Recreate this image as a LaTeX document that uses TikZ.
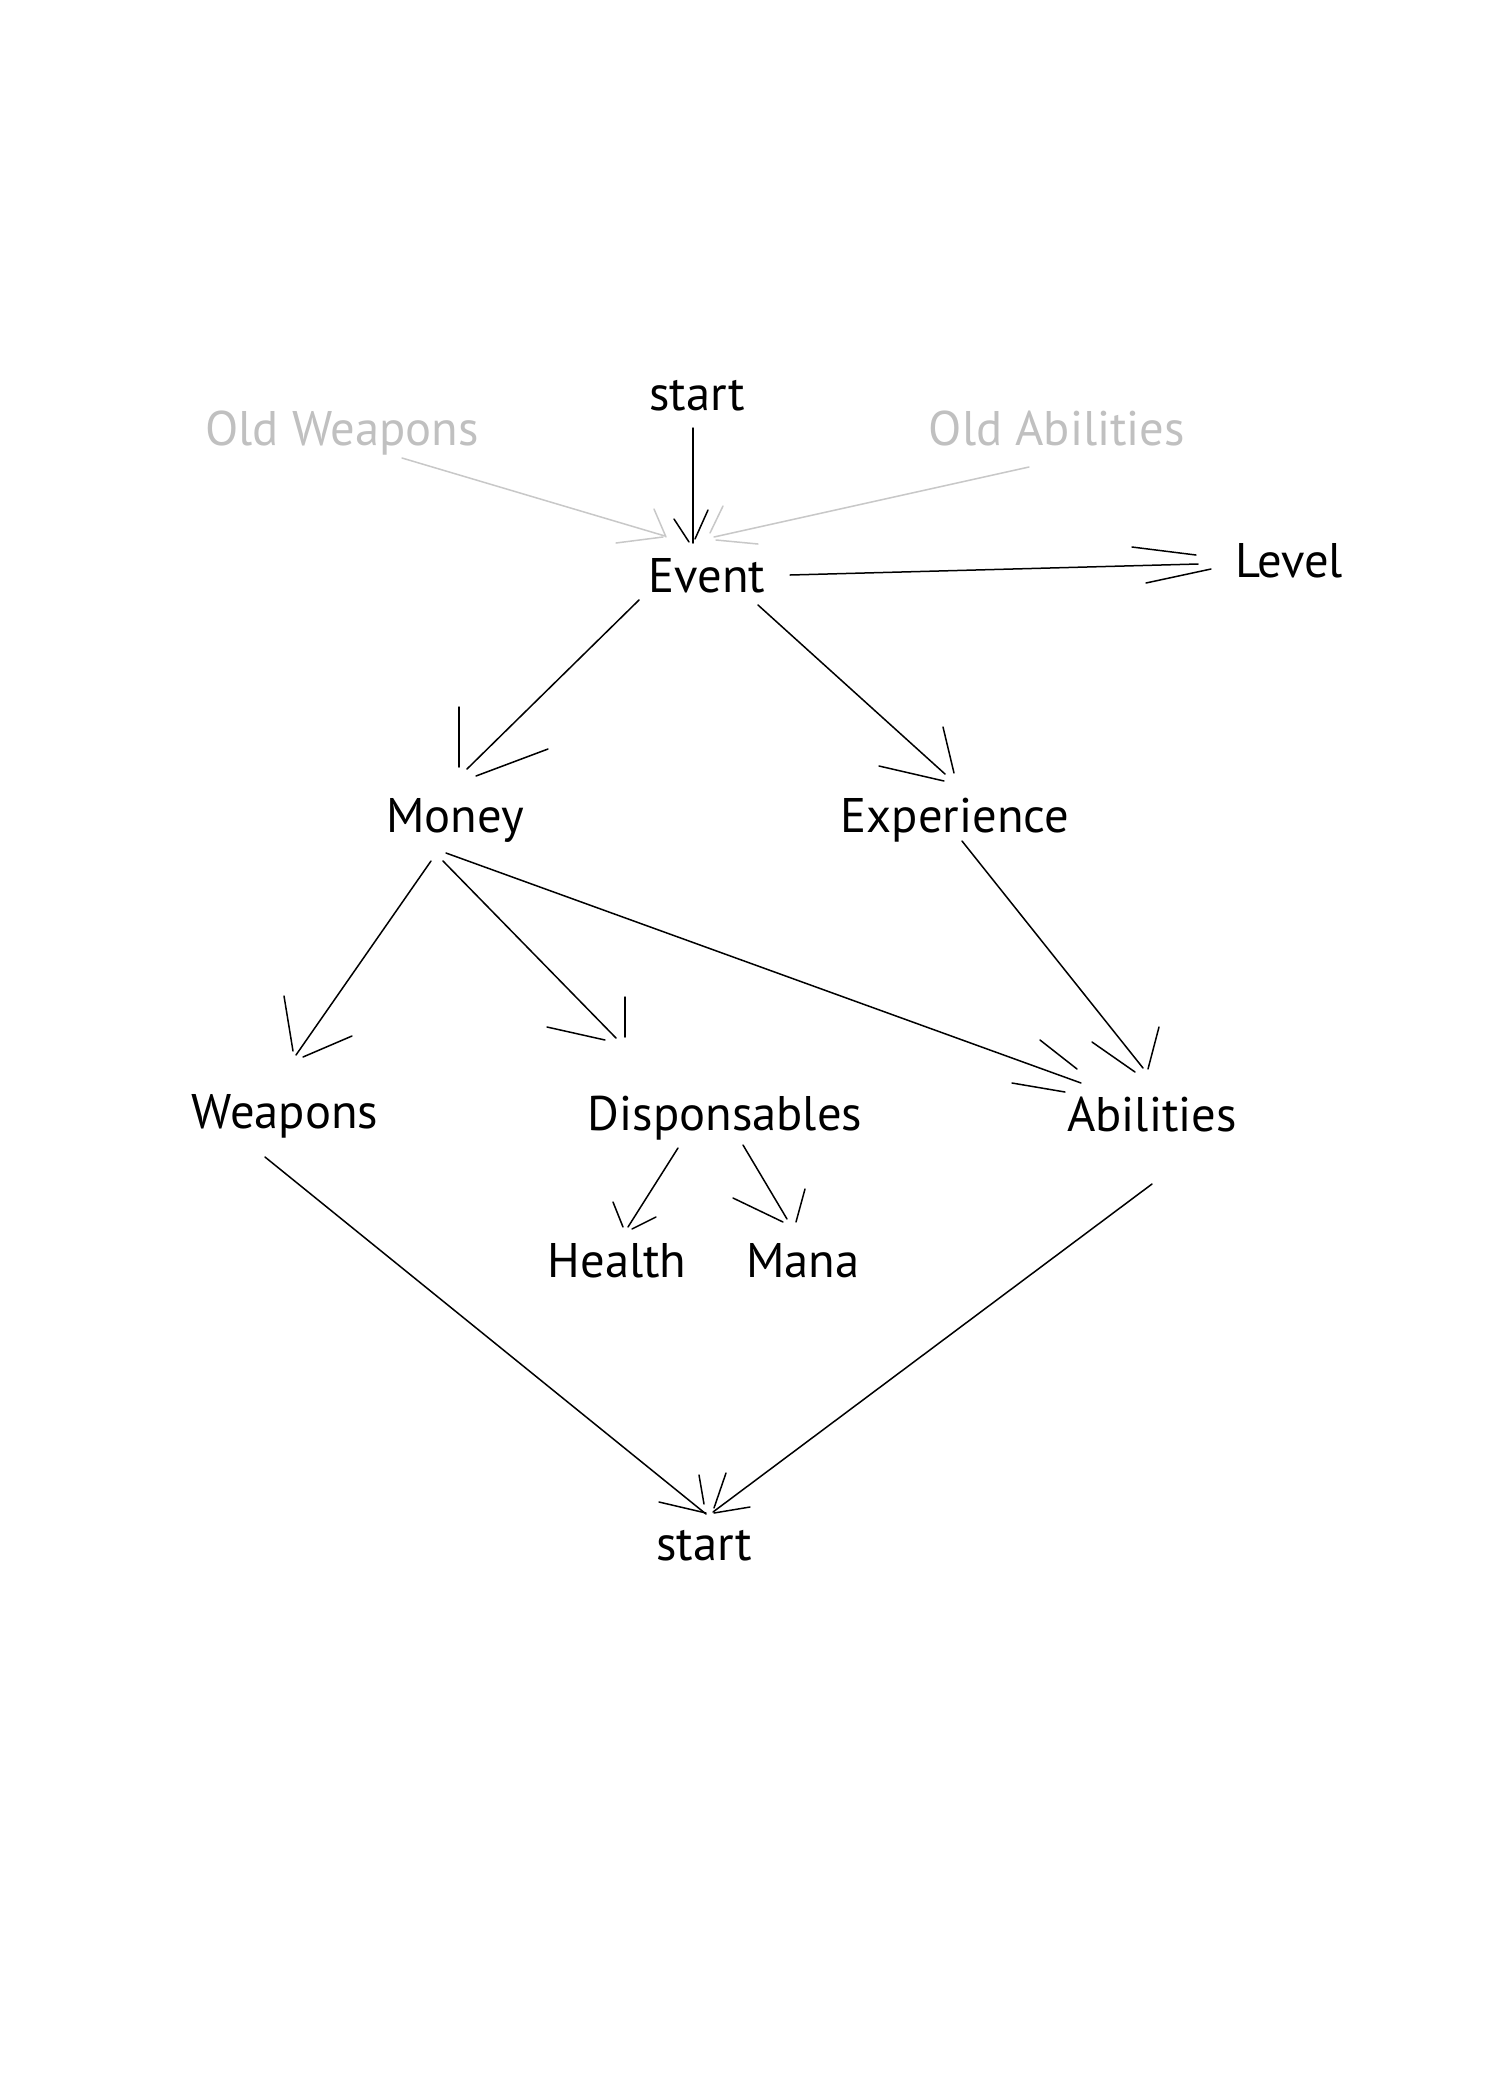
\documentclass[tikz,border=0pt]{standalone}
\usepackage{fontspec}
\setmainfont{PT Sans}
\definecolor{oldgray}{RGB}{200,200,200}
\definecolor{oldtext}{RGB}{192,192,192}
\begin{document}
\begin{tikzpicture}[x=0.5pt,y=-0.5pt,
  lbl/.style={inner sep=0pt, anchor=base, font=\fontsize{24.3pt}{29pt}\selectfont},
  oldlbl/.style={lbl, text=oldtext},
  conn/.style={line width=0.75pt, line cap=round},
  oldconn/.style={conn, draw=oldgray}]
\fill[white] (0,0) rectangle (1500,2100);
\useasboundingbox (0,0) rectangle (1500,2100);

% nodes
\node[lbl] (startTop) at (697,410) {start};
\node[oldlbl] (oldW) at (342,445) {Old Weapons};
\node[oldlbl] (oldA) at (1057,445) {Old Abilities};
\node[lbl] (event) at (707,592) {Event};
\node[lbl] (level) at (1289,577) {Level};
\node[lbl] (money) at (455,832) {Money};
\node[lbl] (exp) at (955,832) {Experience};
\node[lbl] (weapons) at (285,1128) {Weapons};
\node[lbl] (disp) at (725,1130) {Disponsables};
\node[lbl] (abil) at (1152,1131) {Abilities};
\node[lbl] (health) at (617,1277) {Health};
\node[lbl] (mana) at (803,1277) {Mana};
\node[lbl] (startBot) at (704,1560) {start};

% connector end points
\coordinate (sA) at (693,428);   \coordinate (eA) at (693,543);
\coordinate (sB) at (402,458);   \coordinate (eB) at (665,536);
\coordinate (sC) at (1029,467);  \coordinate (eC) at (714,537);
\coordinate (sD) at (790,575);   \coordinate (eD) at (1198,564);
\coordinate (sE) at (639,600);   \coordinate (eE) at (467,769);
\coordinate (sF) at (758,605);   \coordinate (eF) at (945,774);
\coordinate (sG) at (431,861);   \coordinate (eG) at (296,1055);
\coordinate (sH) at (443,861);   \coordinate (eH) at (616,1038);
\coordinate (sI) at (446,853);   \coordinate (eI) at (1081,1083);
\coordinate (sJ) at (962,841);   \coordinate (eJ) at (1143,1068);
\coordinate (sK) at (678,1148);  \coordinate (eK) at (628,1227);
\coordinate (sL) at (743,1145);  \coordinate (eL) at (787,1219);
\coordinate (sM) at (265,1157);  \coordinate (eM) at (706,1514);
\coordinate (sN) at (1152,1184); \coordinate (eN) at (713,1512);

% gray connectors (old items)
\draw[oldconn] (sB) -- (eB);
\draw[oldconn] (654,509) -- (666,537);
\draw[oldconn] (616,543) -- (663,537);
\draw[oldconn] (sC) -- (eC);
\draw[oldconn] (723,506) -- (710,533);
\draw[oldconn] (716,540) -- (758,544);

% start -> Event
\draw[conn] (sA) -- (eA);
\draw[conn] (674,519) -- (689,542);
\draw[conn] (708,510) -- (695,539);

% Event -> Level
\draw[conn] (sD) -- (eD);
\draw[conn] (1132,547) -- (1196,555);
\draw[conn] (1146,583) -- (1211,569);

% Event -> Money
\draw[conn] (sE) -- (eE);
\draw[conn] (459,707) -- (459,767);
\draw[conn] (548,749) -- (476,776);

% Event -> Experience
\draw[conn] (sF) -- (eF);
\draw[conn] (943,727) -- (954,773);
\draw[conn] (879,766) -- (944,781);

% Money -> Weapons
\draw[conn] (sG) -- (eG);
\draw[conn] (284,996) -- (293,1051);
\draw[conn] (352,1036) -- (303,1057);

% Money -> Disponsables
\draw[conn] (sH) -- (eH);
\draw[conn] (625,997) -- (625,1037);
\draw[conn] (547,1027) -- (605,1040);

% Money -> Abilities
\draw[conn] (sI) -- (eI);
\draw[conn] (1040,1040) -- (1077,1069);
\draw[conn] (1012,1083) -- (1065,1092);

% Experience -> Abilities
\draw[conn] (sJ) -- (eJ);
\draw[conn] (1159,1027) -- (1148,1069);
\draw[conn] (1092,1042) -- (1135,1072);

% Disponsables -> Health
\draw[conn] (sK) -- (eK);
\draw[conn] (613,1202) -- (623,1227);
\draw[conn] (656,1217) -- (632,1229);

% Disponsables -> Mana
\draw[conn] (sL) -- (eL);
\draw[conn] (733,1198) -- (783,1222);
\draw[conn] (805,1189) -- (796,1222);

% Weapons -> start
\draw[conn] (sM) -- (eM);
\draw[conn] (659,1502) -- (706,1513);
\draw[conn] (699,1475) -- (704,1504);

% Abilities -> start
\draw[conn] (sN) -- (eN);
\draw[conn] (726,1473) -- (714,1508);
\draw[conn] (750,1507) -- (714,1513);
\end{tikzpicture}
\end{document}
